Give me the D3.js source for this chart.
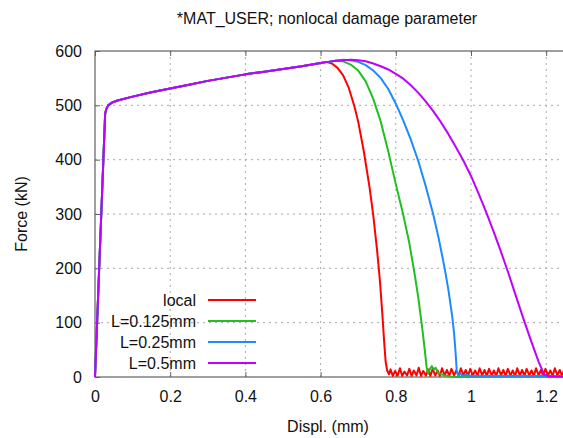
<!DOCTYPE html>
<html>
<head>
<meta charset="utf-8">
<script src="https://cdn.jsdelivr.net/npm/d3@7"></script>
<style>
  body { margin: 0; background: #fff; }
  text { font-family: "Liberation Sans", Arial, sans-serif; }
</style>
</head>
<body>
<svg id="chart"></svg>
<script>
// data (displacement mm, force kN)
const xTicks = [0, 0.2, 0.4, 0.6, 0.8, 1, 1.2];
const yTicks = [0, 100, 200, 300, 400, 500, 600];
const seriesNames = ["local", "L=0.125mm", "L=0.25mm", "L=0.5mm"];
const seriesColors = ["#ff0000", "#20c020", "#1a8cff", "#c000ff"];

const hardening = [[0, 0], [0.027, 485], [0.03, 493], [0.035, 500], [0.045, 505], [0.06, 509], [0.1, 516],
  [0.15, 524], [0.2, 531], [0.25, 538], [0.3, 545], [0.35, 551], [0.4, 557], [0.45, 562], [0.5, 567],
  [0.55, 572], [0.6, 578]];

const localDrop = [[0.615, 580], [0.63, 577], [0.645, 569], [0.66, 555], [0.675, 532], [0.69, 498], [0.70, 470],
  [0.715, 415], [0.73, 350], [0.74, 298], [0.75, 235], [0.758, 175], [0.764, 118], [0.769, 65], [0.773, 28],
  [0.777, 12], [0.782, 5]];
const localTail = [[0.786, 14], [0.792, 2], [0.798, 11], [0.805, 3], [0.811, 16], [0.817, 2], [0.823, 10], [0.830, 3],
  [0.836, 15], [0.842, 2], [0.848, 12], [0.855, 3], [0.861, 17], [0.867, 2], [0.873, 11], [0.880, 3],
  [0.886, 14], [0.892, 2], [0.898, 15], [0.905, 3], [0.911, 12], [0.917, 2], [0.923, 16], [0.930, 3],
  [0.936, 13], [0.942, 2], [0.948, 15], [0.955, 3], [0.961, 12], [0.967, 2], [0.973, 16], [0.980, 3],
  [0.986, 13], [0.992, 2], [0.998, 15], [1.005, 3], [1.011, 12], [1.017, 2], [1.023, 16], [1.030, 3],
  [1.036, 13], [1.042, 2], [1.048, 15], [1.055, 3], [1.061, 12], [1.067, 2], [1.073, 16], [1.080, 3],
  [1.086, 13], [1.092, 2], [1.098, 15], [1.105, 3], [1.111, 12], [1.117, 2], [1.123, 16], [1.130, 3],
  [1.136, 13], [1.142, 2], [1.148, 15], [1.155, 3], [1.161, 12], [1.167, 2], [1.173, 16], [1.180, 3],
  [1.186, 13], [1.192, 2], [1.198, 15], [1.205, 3], [1.211, 12], [1.217, 2], [1.223, 16], [1.230, 3],
  [1.236, 13], [1.242, 2], [1.248, 14]];

const l125Drop = [[0.62, 580], [0.64, 582], [0.66, 581], [0.68, 575], [0.70, 564], [0.72, 544], [0.74, 512],
  [0.76, 470], [0.78, 415], [0.80, 355], [0.82, 298], [0.835, 250], [0.85, 190], [0.86, 145], [0.87, 92],
  [0.877, 50], [0.882, 18], [0.886, 6], [0.891, 15], [0.896, 20], [0.901, 14], [0.906, 17], [0.912, 8],
  [0.92, 5], [0.93, 3], [0.945, 1], [0.96, 0], [1.25, 0]];

const l25Drop = [[0.62, 580], [0.64, 582], [0.66, 584], [0.68, 583], [0.70, 580], [0.72, 574], [0.74, 564],
  [0.76, 550], [0.78, 530], [0.80, 503], [0.82, 472], [0.84, 437], [0.86, 397], [0.88, 350], [0.90, 298],
  [0.915, 252], [0.93, 200], [0.94, 160], [0.95, 112], [0.955, 80], [0.959, 45], [0.962, 12], [0.966, 3],
  [0.972, 6], [0.978, 2], [0.988, 4], [1.0, 2], [1.25, 2]];

const l5Drop = [[0.62, 580], [0.64, 582], [0.66, 583], [0.68, 584], [0.70, 583], [0.72, 581], [0.74, 577],
  [0.76, 572], [0.78, 566], [0.80, 558], [0.82, 549], [0.84, 537], [0.86, 523], [0.88, 507], [0.90, 489],
  [0.92, 469], [0.94, 447], [0.96, 423], [0.98, 398], [1.00, 370], [1.02, 338], [1.04, 304], [1.06, 268],
  [1.08, 230], [1.10, 190], [1.12, 148], [1.14, 106], [1.16, 66], [1.18, 28], [1.195, 4], [1.21, 1], [1.25, 1]];

const seriesData = [
  hardening.concat(localDrop, localTail),
  hardening.concat(l125Drop),
  hardening.concat(l25Drop),
  hardening.concat(l5Drop)
];

const W = 563, H = 438;
const margin = { top: 51, left: 95, bottom: 61 };
const plotW = 1.25 * 376, plotH = H - margin.top - margin.bottom;

const svg = d3.select("#chart").attr("width", W).attr("height", H);

const x = d3.scaleLinear().domain([0, 1.25]).range([margin.left, margin.left + plotW]);
const y = d3.scaleLinear().domain([0, 600]).range([margin.top + plotH, margin.top]);

// dotted grid
svg.append("g").selectAll("line").data(xTicks.filter(d => d > 0)).enter().append("line")
  .attr("x1", d => x(d)).attr("x2", d => x(d))
  .attr("y1", y(0)).attr("y2", y(600))
  .attr("stroke", "#a8a8a8").attr("stroke-dasharray", "2,4");
svg.append("g").selectAll("line").data(yTicks.filter(d => d > 0 && d < 600)).enter().append("line")
  .attr("x1", x(0)).attr("x2", x(1.25))
  .attr("y1", d => y(d)).attr("y2", d => y(d))
  .attr("stroke", "#a8a8a8").attr("stroke-dasharray", "2,4");

// axes with inward ticks
const axisStyle = g => {
  g.select(".domain").remove();
  g.selectAll(".tick line").attr("stroke", "#606060");
  g.selectAll(".tick text").attr("font-size", 16).attr("fill", "#111")
    .attr("font-family", "'Liberation Sans', Arial, sans-serif");
};
svg.append("g").attr("transform", `translate(0,${y(0)})`)
  .call(d3.axisBottom(x).tickValues(xTicks).tickFormat(d3.format("")).tickSize(-5).tickPadding(14))
  .call(axisStyle);
svg.append("g").attr("transform", `translate(0,${y(600)})`)
  .call(d3.axisTop(x).tickValues(xTicks).tickFormat("").tickSize(-5))
  .call(axisStyle);
svg.append("g").attr("transform", `translate(${x(0)},0)`)
  .call(d3.axisLeft(y).tickValues(yTicks).tickSize(-5).tickPadding(13))
  .call(axisStyle);

svg.append("rect")
  .attr("x", x(0)).attr("y", y(600))
  .attr("width", plotW).attr("height", plotH)
  .attr("fill", "none").attr("stroke", "#606060").attr("stroke-width", 1.2);

// curves
const line = d3.line().x(d => x(d[0])).y(d => y(d[1]));
svg.append("g").selectAll("path").data(seriesData).enter().append("path")
  .attr("d", line)
  .attr("fill", "none")
  .attr("stroke", (d, i) => seriesColors[i])
  .attr("stroke-width", 2)
  .attr("stroke-linejoin", "round");

// legend
const legend = svg.append("g");
seriesNames.forEach((name, i) => {
  const ly = 300 + i * 21;
  legend.append("text")
    .attr("x", 196).attr("y", ly + 6)
    .attr("text-anchor", "end").attr("font-size", 16).attr("fill", "#111")
    .text(name);
  legend.append("line")
    .attr("x1", 208).attr("x2", 256)
    .attr("y1", ly).attr("y2", ly)
    .attr("stroke", seriesColors[i]).attr("stroke-width", 2);
});

// titles
svg.append("text")
  .attr("x", 327).attr("y", 24)
  .attr("text-anchor", "middle").attr("font-size", 16).attr("fill", "#111")
  .text("*MAT_USER; nonlocal damage parameter");
svg.append("text")
  .attr("x", 328).attr("y", 432)
  .attr("text-anchor", "middle").attr("font-size", 16).attr("fill", "#111")
  .text("Displ. (mm)");
svg.append("text")
  .attr("transform", `translate(27,${(y(0) + y(600)) / 2}) rotate(-90)`)
  .attr("text-anchor", "middle").attr("font-size", 16).attr("fill", "#111")
  .text("Force (kN)");
</script>
</body>
</html>
